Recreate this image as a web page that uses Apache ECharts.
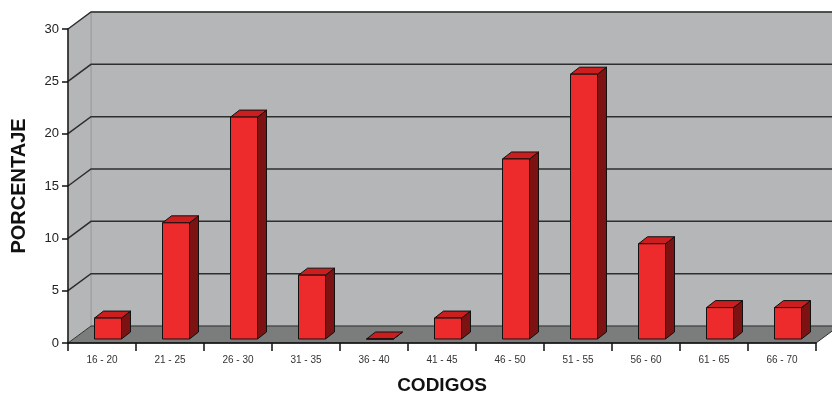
<!DOCTYPE HTML>
<html>
<head>
  <meta http-equiv="Content-Type" content="text/html,charset=utf-8"/>
  <title>PORCENTAJE por CODIGOS</title>
  <script type="text/javascript" src="https://cdn.jsdelivr.net/npm/echarts@6/dist/echarts.min.js"></script>
  <style>
    html, body { margin: 0; padding: 0; background: #fff; }
    #container { width: 832px; height: 393px; }
  </style>
</head>
<body>
  <div id="container"></div>
  <script type="text/javascript">
    /*** datos ***/
    var codigos = ['16 - 20', '21 - 25', '26 - 30', '31 - 35', '36 - 40', '41 - 45',
                   '46 - 50', '51 - 55', '56 - 60', '61 - 65', '66 - 70'];
    var porcentaje = [2.0, 11.1, 21.2, 6.1, 0, 2.0, 17.2, 25.3, 9.1, 3.0, 3.0];
    var yTicks = [0, 5, 10, 15, 20, 25, 30];

    // profundidad de la pared (efecto 3D) y geometria de las barras
    var DX = 23, DY = -17;
    var FX = 6, FY = -4, BW = 27, BDX = 9, BDY = -7;

    function paredes(params, api) {
      var cs = params.coordSys;
      var L = cs.x, R = cs.x + cs.width, T = cs.y, B = cs.y + cs.height;
      var v = api.value(0);
      var y = api.coord([0, v])[1];
      var children = [];
      if (params.dataIndex === 0) {
        children.push({
          type: 'polygon',
          shape: { points: [[L, T], [L + DX, T + DY], [L + DX, B + DY], [L, B]] },
          style: { fill: '#b4b6b8', stroke: '#c9cbcc', lineWidth: 1 }
        });
        children.push({
          type: 'rect',
          shape: { x: L + DX, y: T + DY, width: R - L + 20, height: B - T },
          style: { fill: '#b4b6b8', stroke: '#8f9193', lineWidth: 1 }
        });
        children.push({
          type: 'polygon',
          shape: { points: [[L, B], [R, B], [R + DX, B + DY], [L + DX, B + DY]] },
          style: { fill: '#7b7c7c', stroke: '#333', lineWidth: 1 }
        });
      } else {
        children.push({
          type: 'polyline',
          shape: { points: [[L, y], [L + DX, y + DY], [R + DX + 20, y + DY]] },
          style: { stroke: '#2e2e2e', lineWidth: 1.5, fill: null }
        });
      }
      return { type: 'group', children: children };
    }

    function barras3D(params, api) {
      var i = api.value(0), v = api.value(1);
      var base = api.coord([i, 0]);
      var top = api.coord([i, v]);
      var cx = base[0] + FX;
      var x0 = cx - BW / 2, x1 = cx + BW / 2;
      var yb = base[1] + FY, yt = top[1] + FY;
      var borde = { stroke: '#111', lineWidth: 1, lineJoin: 'round' };
      return {
        type: 'group',
        children: [
          {
            type: 'polygon',
            shape: { points: [[x1, yt], [x1 + BDX, yt + BDY], [x1 + BDX, yb + BDY], [x1, yb]] },
            style: Object.assign({ fill: '#7c1212' }, borde)
          },
          {
            type: 'polygon',
            shape: { points: [[x0, yt], [x1, yt], [x1 + BDX, yt + BDY], [x0 + BDX, yt + BDY]] },
            style: Object.assign({ fill: '#cc1d1f' }, borde)
          },
          {
            type: 'rect',
            shape: { x: x0, y: yt, width: BW, height: yb - yt },
            style: Object.assign({ fill: '#ee2b2c' }, borde)
          }
        ]
      };
    }

    var dom = document.getElementById('container');
    var myChart = echarts.init(dom, null, { renderer: 'canvas' });
    var option = {
      animation: false,
      backgroundColor: '#ffffff',
      textStyle: { fontFamily: 'Liberation Sans, Arial, sans-serif' },
      grid: { left: 68, right: 16, top: 29, bottom: 50, containLabel: false, outerBoundsMode: 'none' },
      xAxis: {
        type: 'category',
        data: codigos,
        z: 10,
        name: 'CODIGOS',
        nameLocation: 'middle',
        nameGap: 33,
        nameTextStyle: { fontSize: 19, fontWeight: 'bold', color: '#111' },
        axisLine: { lineStyle: { color: '#111', width: 1.5 } },
        axisTick: { show: true, length: 8, inside: false, lineStyle: { color: '#111', width: 1.5 } },
        axisLabel: { fontSize: 10, color: '#333', margin: 12 },
        splitLine: { show: false }
      },
      yAxis: {
        type: 'value',
        min: 0,
        max: 30,
        interval: 5,
        z: 10,
        name: 'PORCENTAJE',
        nameLocation: 'middle',
        nameGap: 39,
        nameRotate: 90,
        nameTextStyle: { fontSize: 20, fontWeight: 'bold', color: '#111' },
        axisLine: { show: true, lineStyle: { color: '#111', width: 1.5 } },
        axisTick: { show: true, length: 6, lineStyle: { color: '#111', width: 1.5 } },
        axisLabel: { fontSize: 13, color: '#222', margin: 9 },
        splitLine: { show: false }
      },
      series: [
        {
          type: 'custom',
          name: 'paredes',
          z: 1,
          silent: true,
          renderItem: paredes,
          data: yTicks.map(function (t) { return [t]; }),
          encode: { y: 0 }
        },
        {
          type: 'custom',
          name: 'PORCENTAJE',
          z: 5,
          renderItem: barras3D,
          data: porcentaje.map(function (v, i) { return [i, v]; }),
          encode: { x: 0, y: 1 }
        }
      ]
    };
    myChart.setOption(option, true);
  </script>
</body>
</html>
